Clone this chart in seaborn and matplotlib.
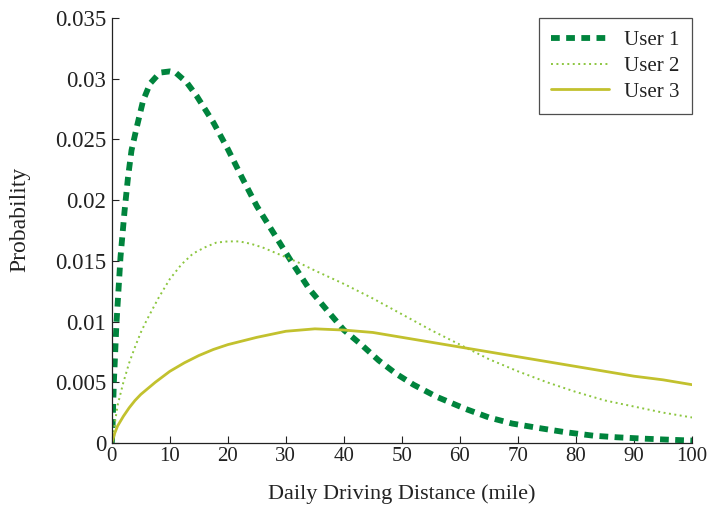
import numpy as np
import pandas as pd
import matplotlib
matplotlib.use("Agg")
import matplotlib.pyplot as plt
import seaborn as sns

# ---- data ----
user1_x = [0, 0.1, 0.35, 0.8, 1.5, 2.2, 2.8, 3.4, 4.3, 5.4, 6.6, 8.3, 10, 11, 12.9, 14.6,
           17.5, 20, 22.5, 25, 28, 31, 34, 37.5, 40, 43, 46, 49, 52, 56, 61, 65, 69, 74,
           78, 83, 87, 92, 96, 100]
user1_y = [0, 0.0008, 0.0049, 0.0098, 0.0153, 0.0191, 0.0219, 0.0241, 0.0260, 0.0282,
           0.0296, 0.0305, 0.0306, 0.0305, 0.0297, 0.0286, 0.0264, 0.0242, 0.0218, 0.0195,
           0.0172, 0.0149, 0.0127, 0.0107, 0.0093, 0.0081, 0.0068, 0.0057, 0.0048, 0.0038,
           0.0028, 0.0021, 0.0016, 0.0012, 0.0009, 0.0006, 0.00047, 0.00035, 0.00027, 0.0002]

user2_x = [0, 1, 2, 3, 4, 5, 6, 7, 8, 10, 12, 14, 16, 18, 20, 22, 24, 26, 28, 30, 32, 35,
           40, 45, 50, 55, 60, 65, 70, 75, 80, 85, 90, 95, 100]
user2_y = [0, 0.0031, 0.0050, 0.0066, 0.0079, 0.0091, 0.0101, 0.0110, 0.0119, 0.0135,
           0.0147, 0.0156, 0.0161, 0.0165, 0.0166, 0.0166, 0.0164, 0.0161, 0.0157, 0.0153,
           0.0149, 0.0142, 0.0131, 0.0119, 0.0106, 0.0093, 0.0081, 0.0069, 0.0059, 0.0050,
           0.0042, 0.0035, 0.0030, 0.0025, 0.0021]

user3_x = [0, 0.5, 1, 2, 3, 4, 5, 6, 7.5, 10, 12.5, 15, 17.5, 20, 25, 30, 35, 40, 45, 50,
           55, 60, 65, 70, 75, 80, 85, 90, 95, 100]
user3_y = [0, 0.0008, 0.0014, 0.0022, 0.0029, 0.0035, 0.0040, 0.0044, 0.0050, 0.0059,
           0.0066, 0.0072, 0.0077, 0.0081, 0.0087, 0.0092, 0.0094, 0.0093, 0.0091, 0.0087,
           0.0083, 0.0079, 0.0075, 0.0071, 0.0067, 0.0063, 0.0059, 0.0055, 0.0052, 0.0048]

labels = ["User 1", "User 2", "User 3"]
x_ticks = [0, 10, 20, 30, 40, 50, 60, 70, 80, 90, 100]
y_ticks = [0, 0.005, 0.01, 0.015, 0.02, 0.025, 0.03, 0.035]
y_tick_labels = ["0", "0.005", "0.01", "0.015", "0.02", "0.025", "0.03", "0.035"]

sns.set_theme(style="ticks")
plt.rcParams['font.family'] = ['Liberation Serif', 'DejaVu Serif']

TXT = "#222222"
fig = plt.figure(figsize=(7.12, 5.09), dpi=100)
ax = fig.add_axes([0.157, 0.1297, 0.815, 0.835])

sns.lineplot(x=user1_x, y=user1_y, ax=ax, color="#00843D", linewidth=4.2,
             label=labels[0], estimator=None, sort=False)
ax.lines[-1].set_dashes((1.5, 1.1))
sns.lineplot(x=user2_x, y=user2_y, ax=ax, color="#8CC63F", linewidth=1.4,
             label=labels[1], estimator=None, sort=False)
ax.lines[-1].set_dashes((1.0, 1.8))
sns.lineplot(x=user3_x, y=user3_y, ax=ax, color="#C2C12E", linewidth=2.0,
             label=labels[2], estimator=None, sort=False)

ax.set_xlim(0, 100)
ax.set_ylim(0, 0.035)
ax.set_xticks(x_ticks)
ax.set_xticklabels([str(v) for v in x_ticks])
ax.set_yticks(y_ticks)
ax.set_yticklabels(y_tick_labels)
ax.tick_params(direction="in", length=5, width=0.8, colors=TXT)
ax.tick_params(axis="x", labelsize=15, pad=3)
ax.tick_params(axis="y", labelsize=16.5, pad=4)
for s in ["top", "right"]:
    ax.spines[s].set_visible(False)
for s in ["left", "bottom"]:
    ax.spines[s].set_color(TXT)
    ax.spines[s].set_linewidth(0.9)

ax.set_xlabel("Daily Driving Distance (mile)", fontsize=16, color=TXT, labelpad=13)
ax.set_ylabel("Probability", fontsize=17, color=TXT)
ax.yaxis.set_label_coords(-0.141, 0.525)

leg = ax.legend(loc="upper right", fontsize=15, frameon=True, fancybox=False,
                edgecolor=TXT, borderpad=0.6, handlelength=2.8, handletextpad=0.7,
                labelspacing=0.3, borderaxespad=0.0, bbox_to_anchor=(1.0, 1.0))
leg.get_frame().set_linewidth(0.9)
for t in leg.get_texts():
    t.set_color(TXT)

fig.savefig("out.png", dpi=100)
